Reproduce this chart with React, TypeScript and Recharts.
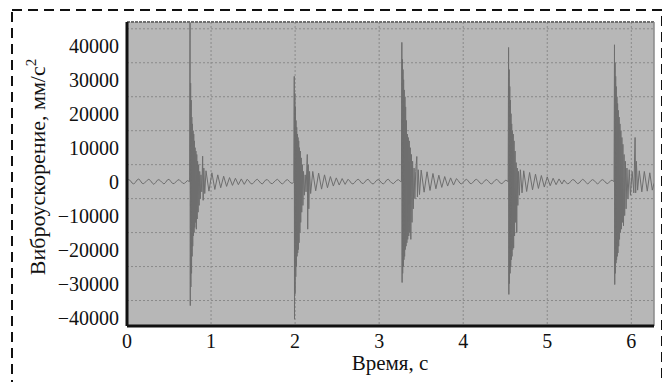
import { LineChart, Line, XAxis, YAxis, CartesianGrid, ReferenceLine } from "recharts";

// [time, acceleration] samples
const quiet0: [number, number][] = [
  [0.0, 200], [0.02, 600], [0.04, 300], [0.06, -400], [0.08, -700], [0.1, -200],
  [0.12, 500], [0.14, 800], [0.16, 200], [0.18, -500], [0.2, -600], [0.22, -100],
  [0.24, 400], [0.26, 700], [0.28, 300], [0.3, -400], [0.32, -800], [0.34, -300],
  [0.36, 400], [0.38, 600], [0.4, 200], [0.42, -300], [0.44, -700], [0.46, -200],
  [0.48, 500], [0.5, 700], [0.52, 100], [0.54, -500], [0.56, -600], [0.58, -100],
  [0.6, 400], [0.62, 600], [0.64, 100], [0.66, -400], [0.68, -600], [0.7, -100],
  [0.72, 300], [0.745, 0],
];

const impact1: [number, number][] = [
  [0.75, 46800], [0.753, -36500], [0.757, 29000], [0.76, -31000], [0.764, 24000],
  [0.768, -27000], [0.771, 19000], [0.775, -22000], [0.779, 17000], [0.782, -19000],
  [0.786, 15000], [0.79, -16000], [0.794, 14000], [0.798, -15000], [0.802, 12000],
  [0.806, -13500], [0.81, 10000], [0.815, -12000], [0.82, 9000], [0.825, -14000],
  [0.83, 8000], [0.835, -11000], [0.84, 6000], [0.846, -9000], [0.852, 5000],
  [0.858, -7000], [0.865, 3000], [0.872, -5000], [0.88, 2000], [0.89, -3000],
  [0.9, 7500], [0.906, -5500], [0.914, 4000], [0.925, -3500], [0.94, 3200],
  [0.975, -2800], [1.01, 2600], [1.045, -2300], [1.08, 2000], [1.115, -1800],
  [1.15, 1600], [1.185, -1400], [1.22, 1200], [1.255, -1100], [1.29, 1000],
  [1.325, -900], [1.36, 800], [1.395, -800],
];

const quiet1: [number, number][] = [
  [1.43, 700], [1.45, 200], [1.47, -500], [1.49, -700], [1.51, -200], [1.53, 400],
  [1.55, 700], [1.57, 200], [1.59, -400], [1.61, -700], [1.63, -100], [1.65, 500],
  [1.67, 600], [1.69, 100], [1.71, -500], [1.73, -600], [1.75, -100], [1.77, 400],
  [1.79, 700], [1.81, 200], [1.83, -400], [1.85, -700], [1.87, -200], [1.89, 400],
  [1.91, 600], [1.93, 100], [1.95, -400], [1.97, -500], [1.985, 0],
];

const impact2: [number, number][] = [
  [1.99, 31000], [1.993, -40500], [1.997, 26000], [2.0, -33000], [2.004, 22000],
  [2.008, -28000], [2.011, 18000], [2.015, -25000], [2.019, 16000], [2.023, -22000],
  [2.027, 14000], [2.031, -21000], [2.035, 13000], [2.039, -20000], [2.043, 12000],
  [2.047, -18000], [2.052, 10000], [2.057, -15000], [2.062, 9000], [2.067, -12000],
  [2.073, 7000], [2.079, -9000], [2.086, 5000], [2.093, -7000], [2.1, 3000],
  [2.11, -4000], [2.12, 2000], [2.13, -3000], [2.145, 8000], [2.15, -14000],
  [2.156, 5000], [2.163, -8000], [2.172, 3000], [2.185, -3500], [2.21, 3000],
  [2.245, -2700], [2.28, 2500], [2.315, -2200], [2.35, 2000], [2.385, -1800],
  [2.42, 1500], [2.455, -1300], [2.49, 1100], [2.525, -1000], [2.56, 900],
  [2.595, -800], [2.63, 700],
];

const quiet2: [number, number][] = [
  [2.65, 200], [2.67, -500], [2.69, -700], [2.71, -200], [2.73, 400], [2.75, 700],
  [2.77, 300], [2.79, -400], [2.81, -600], [2.83, -100], [2.85, 500], [2.87, 700],
  [2.89, 100], [2.91, -500], [2.93, -700], [2.95, -200], [2.97, 400], [2.99, 600],
  [3.01, 200], [3.03, -400], [3.05, -700], [3.07, -200], [3.09, 500], [3.11, 700],
  [3.13, 100], [3.15, -400], [3.17, -600], [3.19, -100], [3.21, 400], [3.23, 600],
  [3.25, 100], [3.265, 0],
];

const impact3: [number, number][] = [
  [3.27, 41000], [3.273, -29700], [3.277, 36000], [3.28, -27000], [3.284, 33000],
  [3.288, -25000], [3.291, 30000], [3.295, -23000], [3.299, 27000], [3.303, -22000],
  [3.307, 25000], [3.311, -20000], [3.315, 22000], [3.32, -19000], [3.325, 18000],
  [3.33, -18000], [3.335, 14000], [3.34, -17000], [3.346, 13000], [3.352, -16000],
  [3.358, 12000], [3.364, -15000], [3.37, 10000], [3.377, -17000], [3.384, 8000],
  [3.391, -12000], [3.398, 6000], [3.406, -8000], [3.415, 4000], [3.425, -5000],
  [3.435, 3000], [3.448, 7400], [3.455, -4500], [3.465, 3500], [3.48, -3800],
  [3.5, 3400], [3.535, -3100], [3.57, 2900], [3.605, -2600], [3.64, 2400],
  [3.675, -2100], [3.71, 1900], [3.745, -1700], [3.78, 1500], [3.815, -1300],
  [3.85, 1100], [3.885, -1000], [3.92, 900],
];

const quiet3: [number, number][] = [
  [3.94, 300], [3.96, -400], [3.98, -700], [4.0, -200], [4.02, 400], [4.04, 700],
  [4.06, 200], [4.08, -500], [4.1, -600], [4.12, -100], [4.14, 500], [4.16, 700],
  [4.18, 200], [4.2, -400], [4.22, -700], [4.24, -200], [4.26, 400], [4.28, 600],
  [4.3, 100], [4.32, -500], [4.34, -700], [4.36, -100], [4.38, 400], [4.4, 700],
  [4.42, 200], [4.44, -400], [4.46, -600], [4.48, -200], [4.5, 400], [4.52, 300],
  [4.535, 0],
];

const impact4: [number, number][] = [
  [4.54, 39500], [4.543, -33200], [4.547, 33000], [4.55, -30000], [4.554, 28000],
  [4.558, -27000], [4.561, 24000], [4.565, -25000], [4.569, 20000], [4.573, -23000],
  [4.577, 17000], [4.581, -22000], [4.585, 15000], [4.59, -20000], [4.595, 14000],
  [4.6, -19500], [4.605, 12000], [4.611, -16000], [4.617, 9000], [4.623, -12000],
  [4.63, 5600], [4.637, -15000], [4.643, 4000], [4.65, -7000], [4.658, 3000],
  [4.668, -4000], [4.68, 3500], [4.7, -3300], [4.72, 3200], [4.755, -2900],
  [4.79, 2700], [4.825, -2400], [4.86, 2200], [4.895, -2000], [4.93, 1800],
  [4.965, -1600], [5.0, 1400], [5.035, -1200], [5.07, 1000], [5.105, -900],
  [5.14, 800], [5.175, -700],
];

const quiet4: [number, number][] = [
  [5.2, 500], [5.22, -200], [5.24, -600], [5.26, -500], [5.28, 100], [5.3, 600],
  [5.32, 500], [5.34, -100], [5.36, -600], [5.38, -400], [5.4, 200], [5.42, 700],
  [5.44, 400], [5.46, -200], [5.48, -700], [5.5, -300], [5.52, 300], [5.54, 600],
  [5.56, 300], [5.58, -300], [5.6, -700], [5.62, -200], [5.64, 400], [5.66, 600],
  [5.68, 200], [5.7, -400], [5.72, -600], [5.74, -100], [5.76, 400], [5.78, 300],
  [5.795, 0],
];

const impact5: [number, number][] = [
  [5.8, 40300], [5.803, -30300], [5.807, 35000], [5.81, -27000], [5.814, 31000],
  [5.818, -24000], [5.821, 28000], [5.825, -23000], [5.829, 25000], [5.833, -22000],
  [5.837, 23000], [5.841, -21000], [5.845, 21000], [5.85, -19000], [5.855, 19000],
  [5.86, -17000], [5.865, 17000], [5.87, -15000], [5.876, 15000], [5.882, -14000],
  [5.888, 13000], [5.894, -12000], [5.9, 11000], [5.907, -13000], [5.914, 8000],
  [5.921, -10000], [5.929, 6000], [5.938, -8000], [5.948, 4000], [5.96, -5000],
  [5.975, 3500], [5.99, -4000], [6.01, 3000], [6.03, -3300], [6.045, 13000],
  [6.052, -3300], [6.06, 6000], [6.075, -2500], [6.095, 3200], [6.125, -3000],
  [6.155, 3000], [6.19, -2800], [6.22, 2600], [6.25, -2500], [6.27, -500],
];

const xTicks = [0, 1, 2, 3, 4, 5, 6];
const yTicks = [-40000, -30000, -20000, -10000, 0, 10000, 20000, 30000, 40000];
const yGrid = [-40000, -35000, -30000, -25000, -20000, -15000, -10000, -5000, 0, 5000, 10000, 15000, 20000, 25000, 30000, 35000, 40000, 45000];
const xGrid = [1, 2, 3, 4, 5, 6];

const data = [
  ...quiet0, ...impact1, ...quiet1, ...impact2, ...quiet2,
  ...impact3, ...quiet3, ...impact4, ...quiet4, ...impact5,
].map(([t, a]) => ({ t, a }));

const font = "'Liberation Serif', 'DejaVu Serif', 'Times New Roman', Times, serif";

const YLabel = () => (
  <text
    x={37}
    y={159}
    transform="rotate(-90 37 159)"
    textAnchor="middle"
    fontFamily={font}
    fontSize={22}
    fill="#111"
  >
    Виброускорение, мм/с
    <tspan fontSize={15} dy={-9}>2</tspan>
  </text>
);

const XLabel = () => (
  <text x={382} y={362} textAnchor="middle" fontFamily={font} fontSize={21} fill="#111">
    Время, с
  </text>
);

const tickStyle = { fill: "#111", fontSize: 20, fontFamily: font };
const fmtY = (v: number) => (v < 0 ? "\u2212" + Math.abs(v) : String(v));

export default function App() {
  return (
    <div style={{ position: "relative", width: 662, height: 374, fontFamily: font }}>
      <LineChart
        width={662}
        height={374}
        data={data}
        margin={{ top: 14, right: 16, bottom: 0, left: 0 }}
      >
        <CartesianGrid
          fill="#b7b7b7"
          stroke="#8a8a8a"
          strokeDasharray="2 2"
          horizontalValues={yGrid}
          verticalValues={xGrid}
        />
        <XAxis
          type="number"
          dataKey="t"
          domain={[0, 6.27]}
          allowDataOverflow
          ticks={xTicks}
          tickLine={false}
          axisLine={{ stroke: "#111", strokeWidth: 3 }}
          tick={tickStyle}
          height={56}
          label={<XLabel />}
        />
        <YAxis
          type="number"
          domain={[-42500, 47000]}
          allowDataOverflow
          ticks={yTicks}
          tickFormatter={fmtY}
          tickLine={false}
          axisLine={{ stroke: "#111", strokeWidth: 3 }}
          tick={tickStyle}
          width={119}
          label={<YLabel />}
        />
        <ReferenceLine y={47000} stroke="#6f6f6f" strokeWidth={2} strokeDasharray="3 1" />
        <ReferenceLine x={6.27} stroke="#8a8a8a" strokeWidth={1.5} />
        <Line
          type="linear"
          dataKey="a"
          stroke="#6e6e6e"
          strokeWidth={1}
          dot={false}
          isAnimationActive={false}
        />
      </LineChart>
      <svg
        width={662}
        height={374}
        style={{ position: "absolute", left: 0, top: 0, pointerEvents: "none" }}
      >
        <rect x={4} y={2} width={650} height={420} fill="none" stroke="#111" strokeWidth={2} strokeDasharray="10 6" />
      </svg>
    </div>
  );
}
